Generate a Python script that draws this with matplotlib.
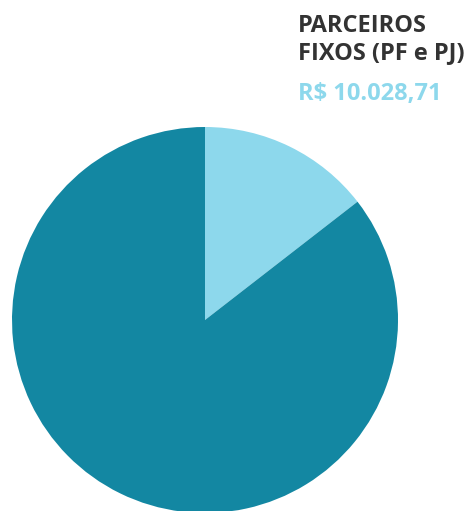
import matplotlib
matplotlib.use("Agg")
import matplotlib.pyplot as plt

# slice shares (light slice = parceiros fixos)
labels = ["PARCEIROS FIXOS (PF e PJ)", "Outros"]
shares = [14.5, 85.5]
colors = ["#8dd8ec", "#1387a2"]

title_lines = ["PARCEIROS", "FIXOS (PF e PJ)"]
value_text = "R$ 10.028,71"

W, H = 468, 511
fig = plt.figure(figsize=(W / 100, H / 100), dpi=100)
ax = fig.add_axes([0, 0, 1, 1])
ax.set_xlim(0, W)
ax.set_ylim(0, H)
ax.set_aspect("equal")
ax.axis("off")

ax.pie(shares, colors=colors, startangle=90, counterclock=False,
       center=(205, H - 320), radius=193,
       wedgeprops=dict(linewidth=0, antialiased=True))
ax.set_xlim(0, W)
ax.set_ylim(0, H)

fnt = dict(family="Open Sans", weight="bold", fontsize=17)
fig.text(298 / W, 1 - 31.7 / H, title_lines[0], color="#333333", va="baseline", **fnt)
fig.text(298 / W, 1 - 59.3 / H, title_lines[1], color="#333333", va="baseline", **fnt)
fig.text(298 / W, 1 - 100 / H, value_text, color="#8dd8ec", va="baseline", **fnt)

fig.savefig("out.png", dpi=100)
